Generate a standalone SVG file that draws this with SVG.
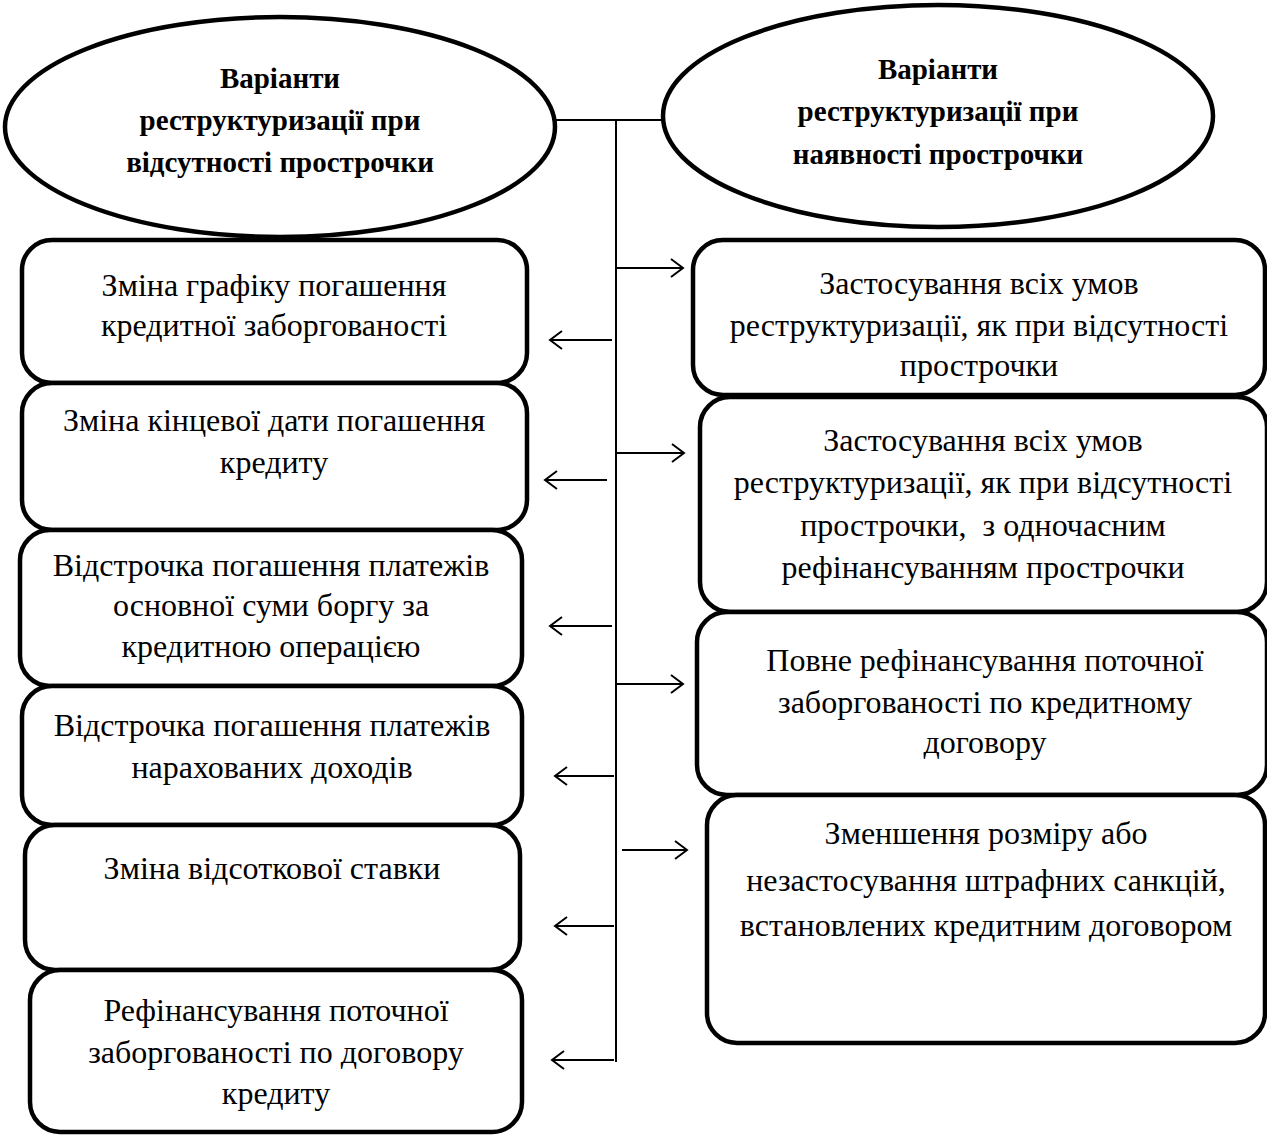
<svg xmlns="http://www.w3.org/2000/svg" width="1267" height="1137" viewBox="0 0 1267 1137">
<style>
.bg{fill:#ffffff}
.node{fill:#ffffff;stroke:#000;stroke-width:4.5}
.ell{fill:#ffffff;stroke:#000;stroke-width:4.5}
.t{font-family:"Liberation Serif","Times New Roman",serif;font-size:32px;fill:#000;text-anchor:middle}
.tb{font-family:"Liberation Serif","Times New Roman",serif;font-size:29px;font-weight:bold;fill:#000;text-anchor:middle}
.c{stroke:#000;stroke-width:2;fill:none}
</style>
<defs>
<marker id="ah" markerUnits="userSpaceOnUse" markerWidth="16" markerHeight="22" refX="14" refY="11" orient="auto">
<path d="M2,2 L14,11 L2,20" fill="none" stroke="#000" stroke-width="2"/>
</marker>
</defs>
<rect class="bg" x="0" y="0" width="1267" height="1137"/>

<g id="connectors">
<line class="c" x1="555" y1="120" x2="664" y2="120"/>
<line class="c" x1="616" y1="120" x2="616" y2="1062"/>
<line class="c" x1="616" y1="268" x2="683" y2="268" marker-end="url(#ah)"/>
<line class="c" x1="617" y1="453" x2="684" y2="453" marker-end="url(#ah)"/>
<line class="c" x1="616" y1="684" x2="683" y2="684" marker-end="url(#ah)"/>
<line class="c" x1="622" y1="850" x2="687" y2="850" marker-end="url(#ah)"/>
<line class="c" x1="612" y1="340" x2="550" y2="340" marker-end="url(#ah)"/>
<line class="c" x1="607" y1="480" x2="545" y2="480" marker-end="url(#ah)"/>
<line class="c" x1="612" y1="626" x2="550" y2="626" marker-end="url(#ah)"/>
<line class="c" x1="614" y1="776" x2="555" y2="776" marker-end="url(#ah)"/>
<line class="c" x1="614" y1="926" x2="555" y2="926" marker-end="url(#ah)"/>
<line class="c" x1="614" y1="1060" x2="552" y2="1060" marker-end="url(#ah)"/>
</g>

<g id="ellipse-left">
<ellipse class="ell" cx="280" cy="127" rx="275" ry="110"/>
<text class="tb" x="280" y="88">Варіанти</text>
<text class="tb" x="280" y="130">реструктуризації при</text>
<text class="tb" x="280" y="172">відсутності прострочки</text>
</g>

<g id="ellipse-right">
<ellipse class="ell" cx="938" cy="116" rx="275" ry="111"/>
<text class="tb" x="938" y="79">Варіанти</text>
<text class="tb" x="938" y="121">реструктуризації при</text>
<text class="tb" x="938" y="164">наявності прострочки</text>
</g>

<g id="left-1">
<rect class="node" x="22" y="240" width="505" height="143" rx="30"/>
<text class="t" x="274" y="296">Зміна графіку погашення</text>
<text class="t" x="274" y="336">кредитної заборгованості</text>
</g>
<g id="left-2">
<rect class="node" x="22" y="383" width="505" height="147" rx="30"/>
<text class="t" x="274" y="431">Зміна кінцевої дати погашення</text>
<text class="t" x="274" y="473">кредиту</text>
</g>
<g id="left-3">
<rect class="node" x="20" y="530" width="502" height="156" rx="30"/>
<text class="t" x="271" y="576">Відстрочка погашення платежів</text>
<text class="t" x="271" y="616">основної суми боргу за</text>
<text class="t" x="271" y="657">кредитною операцією</text>
</g>
<g id="left-4">
<rect class="node" x="22" y="686" width="500" height="139" rx="30"/>
<text class="t" x="272" y="736">Відстрочка погашення платежів</text>
<text class="t" x="272" y="778">нарахованих доходів</text>
</g>
<g id="left-5">
<rect class="node" x="25" y="825" width="495" height="145" rx="30"/>
<text class="t" x="272" y="879">Зміна відсоткової ставки</text>
</g>
<g id="left-6">
<rect class="node" x="30" y="970" width="492" height="162" rx="30"/>
<text class="t" x="276" y="1021">Рефінансування поточної</text>
<text class="t" x="276" y="1063">заборгованості по договору</text>
<text class="t" x="276" y="1104">кредиту</text>
</g>

<g id="right-1">
<rect class="node" x="693" y="240" width="572" height="155" rx="30"/>
<text class="t" x="979" y="294">Застосування всіх умов</text>
<text class="t" x="979" y="336">реструктуризації, як при відсутності</text>
<text class="t" x="979" y="376">прострочки</text>
</g>
<g id="right-2">
<rect class="node" x="700" y="397" width="567" height="215" rx="30"/>
<text class="t" x="983" y="451">Застосування всіх умов</text>
<text class="t" x="983" y="493">реструктуризації, як при відсутності</text>
<text class="t" x="983" y="536" xml:space="preserve">прострочки,  з одночасним</text>
<text class="t" x="983" y="578">рефінансуванням прострочки</text>
</g>
<g id="right-3">
<rect class="node" x="697" y="612" width="570" height="183" rx="30"/>
<text class="t" x="985" y="671">Повне рефінансування поточної</text>
<text class="t" x="985" y="713">заборгованості по кредитному</text>
<text class="t" x="985" y="753">договору</text>
</g>
<g id="right-4">
<rect class="node" x="707" y="795" width="558" height="248" rx="30"/>
<text class="t" x="986" y="844">Зменшення розміру або</text>
<text class="t" x="986" y="891">незастосування штрафних санкцій,</text>
<text class="t" x="986" y="936">встановлених кредитним договором</text>
</g>
</svg>
